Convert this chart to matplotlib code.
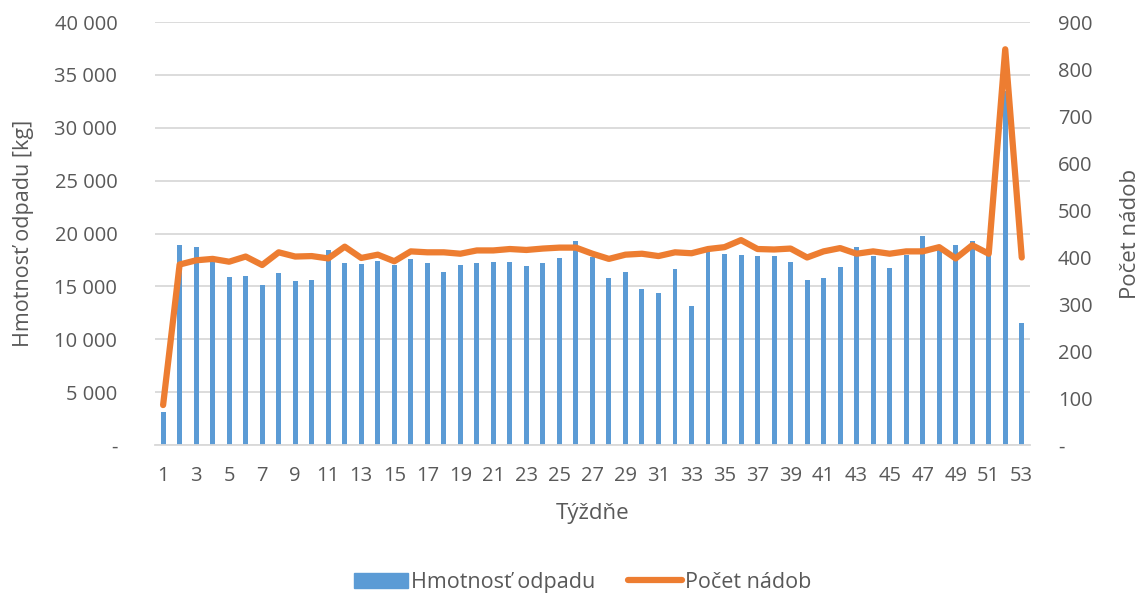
import numpy as np
import matplotlib.pyplot as plt
from matplotlib.ticker import FuncFormatter
from matplotlib.patches import Patch
from matplotlib.lines import Line2D

plt.rcParams['font.family'] = ['Open Sans', 'DejaVu Sans']

weeks = np.arange(1, 54)

# weekly waste mass [kg]
hmotnost = [
    3100, 18900, 18700, 17300, 15850, 16000, 15100, 16300, 15550, 15600,
    18400, 17250, 17150, 17400, 17000, 17600, 17250, 16350, 17000, 17250,
    17300, 17350, 16950, 17250, 17700, 19250, 17800, 15750, 16400, 14800,
    14400, 16650, 13150, 18300, 18050, 17950, 17900, 17850, 17300, 15650,
    15800, 16800, 18700, 17900, 16750, 18000, 19750, 18600, 18950, 19300,
    18100, 33500, 11550,
]

# number of containers per week
pocet = [
    85, 384, 393, 396, 390, 401, 383, 410, 401, 402,
    397, 422, 398, 405, 391, 412, 410, 410, 407, 414,
    414, 417, 415, 418, 420, 420, 407, 396, 405, 407,
    402, 410, 408, 417, 421, 436, 417, 416, 418, 399,
    412, 419, 407, 412, 407, 412, 412, 421, 397, 425,
    407, 842, 399,
]

text_col = '#595959'
grid_col = '#d9d9d9'
blue = '#5b9bd5'
orange = '#ed7d31'

fig = plt.figure(figsize=(11.47, 5.97), dpi=100)
ax = fig.add_axes([0.135, 0.2546, 0.763, 0.7085])
ax2 = ax.twinx()

ax.bar(weeks, hmotnost, width=0.3, color=blue, zorder=2)
ax2.plot(weeks, pocet, color=orange, lw=4.5, solid_joinstyle='round',
         solid_capstyle='round', zorder=3)

ax.set_xlim(0.5, 53.5)
ax.set_ylim(0, 40000)
ax2.set_ylim(0, 900)
ax.set_yticks(np.arange(0, 40001, 5000))
ax2.set_yticks(np.arange(0, 901, 100))
ax.set_xticks(weeks[::2])

def thousands(v, pos):
    if v == 0:
        return '-'
    return f'{int(v):,}'.replace(',', ' ')

ax.yaxis.set_major_formatter(FuncFormatter(thousands))
ax2.yaxis.set_major_formatter(FuncFormatter(lambda v, p: '-' if v == 0 else f'{int(v)}'))

ax.grid(axis='y', color=grid_col, lw=1.3, zorder=0)
ax.set_axisbelow(True)
for a in (ax, ax2):
    for s in a.spines.values():
        s.set_visible(False)
    a.tick_params(length=0, labelsize=14.5, labelcolor=text_col)
ax.spines['bottom'].set_visible(True)
ax.spines['bottom'].set_color(grid_col)
ax.spines['bottom'].set_linewidth(1.3)
ax.tick_params(axis='x', pad=15)
ax.tick_params(axis='y', pad=27)
ax2.tick_params(axis='y', pad=20)

ax.set_xlabel('Týždňe', fontsize=16, color=text_col, labelpad=12)
ax.set_ylabel('Hmotnosť odpadu [kg]', fontsize=15.5, color=text_col, labelpad=15)
ax2.set_ylabel('Počet nádob', fontsize=16, color=text_col, rotation=90, labelpad=20)

handles = [Patch(color=blue), Line2D([0], [0], color=orange, lw=4.5, solid_capstyle='round')]
fig.legend(handles, ['Hmotnosť odpadu', 'Počet nádob'], loc='center',
           bbox_to_anchor=(0.508, 0.025), ncol=2, frameon=False, fontsize=15.5,
           labelcolor=text_col, handlelength=2.5, handletextpad=0.15, columnspacing=1.5)

fig.savefig('out.png', dpi=100)
